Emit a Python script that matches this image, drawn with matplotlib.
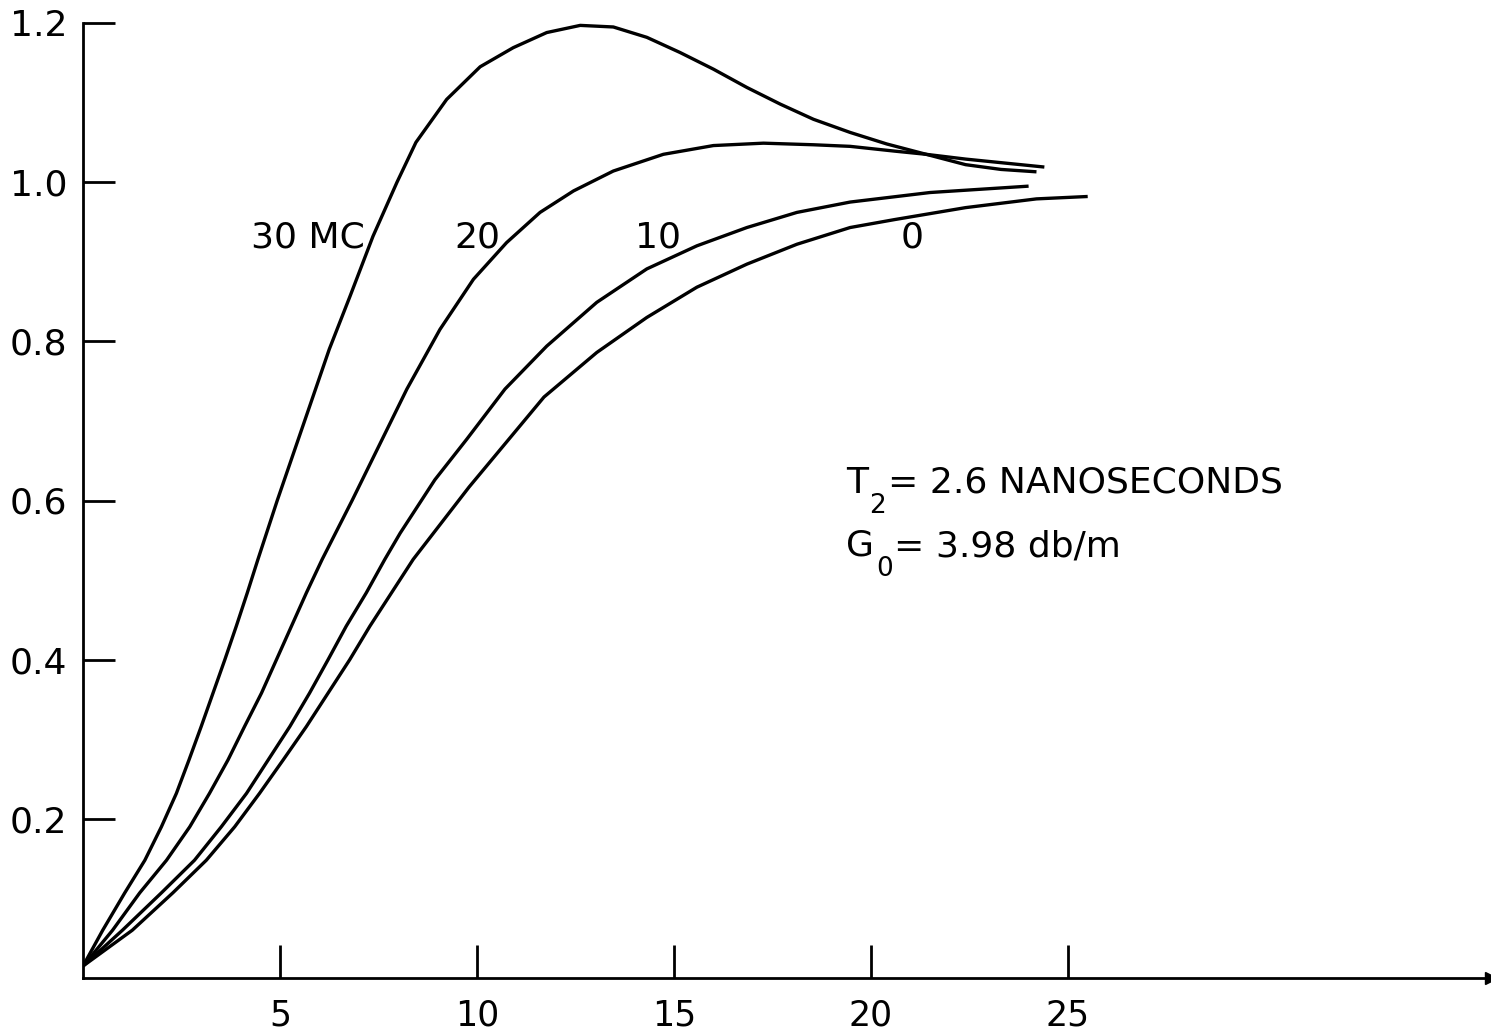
import matplotlib
matplotlib.use("Agg")
import matplotlib.pyplot as plt

plt.rcParams["font.family"] = ["DejaVu Sans"]

# Response curves for several frequency offsets (MC)
x_30 = [0, 0.5, 1.06, 1.57, 1.99, 2.37, 2.69, 3.00, 3.30, 3.60, 3.89, 4.17, 4.44,
        4.93, 6.25, 6.78, 7.36, 7.97, 8.45, 9.23, 10.08, 10.92, 11.77, 12.62, 13.46,
        14.31, 15.15, 16.0, 16.85, 17.70, 18.54, 19.47, 20.4, 21.4, 22.4, 23.3, 24.2]
y_30 = [0.015, 0.060, 0.107, 0.148, 0.190, 0.232, 0.274, 0.316, 0.358, 0.400, 0.442, 0.484, 0.526,
        0.600, 0.790, 0.857, 0.932, 1.000, 1.050, 1.104, 1.145, 1.169, 1.188, 1.197, 1.195,
        1.182, 1.163, 1.142, 1.119, 1.098, 1.079, 1.0625, 1.048, 1.035, 1.022, 1.016, 1.013]

x_20 = [0, 0.75, 1.44, 2.12, 2.71, 3.21, 3.68, 4.10, 4.53, 4.91, 5.29, 5.67, 6.07,
        6.83, 8.22, 9.06, 9.91, 10.75, 11.60, 12.45, 13.46, 14.73, 16.0, 17.27, 18.54,
        19.47, 20.6, 21.4, 22.4, 23.4, 24.4]
y_20 = [0.015, 0.060, 0.107, 0.148, 0.190, 0.232, 0.274, 0.316, 0.358, 0.400, 0.442, 0.484, 0.526,
        0.600, 0.740, 0.815, 0.878, 0.924, 0.962, 0.989, 1.014, 1.035, 1.046, 1.049, 1.047,
        1.045, 1.039, 1.035, 1.029, 1.024, 1.019]

x_10 = [0, 1.0, 1.99, 2.83, 3.51, 4.15, 4.70, 5.25, 5.75, 6.22, 6.68, 7.19, 7.66,
        8.05, 8.93, 9.74, 10.71, 11.77, 13.04, 14.31, 15.58, 16.85, 18.12, 19.47, 21.5, 24.0]
y_10 = [0.015, 0.060, 0.107, 0.148, 0.190, 0.232, 0.274, 0.316, 0.358, 0.400, 0.442, 0.484, 0.526,
        0.559, 0.626, 0.677, 0.740, 0.794, 0.849, 0.891, 0.920, 0.943, 0.962, 0.975, 0.987, 0.995]

x_0 = [0, 1.25, 2.28, 3.13, 3.85, 4.48, 5.08, 5.67, 6.22, 6.77, 7.28, 7.83, 8.38,
       9.8, 11.7, 13.04, 14.31, 15.58, 16.85, 18.12, 19.47, 20.6, 22.4, 24.2, 25.5]
y_0 = [0.015, 0.060, 0.107, 0.148, 0.190, 0.232, 0.274, 0.316, 0.358, 0.400, 0.442, 0.484, 0.526,
       0.617, 0.730, 0.786, 0.830, 0.868, 0.897, 0.922, 0.943, 0.953, 0.968, 0.979, 0.982]

series = [(x_30, y_30), (x_20, y_20), (x_10, y_10), (x_0, y_0)]
curve_labels = ["30 MC", "20", "10", "0"]
label_x = [5.72, 10.0, 14.6, 21.05]
label_y = [0.930, 0.930, 0.930, 0.930]

x_ticks = [5, 10, 15, 20, 25]
x_ticklabels = ["5", "10", "15", "20", "25"]
y_ticks = [0.2, 0.4, 0.6, 0.8, 1.0, 1.2]
y_ticklabels = ["0.2", "0.4", "0.6", "0.8", "1.0", "1.2"]

W, H = 1491, 1034
fig = plt.figure(figsize=(W / 100, H / 100), dpi=100)
x0_px, y0_px, ytop_px = 83, 978, 23
ax = fig.add_axes([x0_px / W, (H - y0_px) / H, (W - x0_px) / W, (y0_px - ytop_px) / H])
ax.set_xlim(0, (W - x0_px) / 39.4)
ax.set_ylim(0, 1.2)

for xs, ys in series:
    ax.plot(xs, ys, color="black", lw=2.4, solid_capstyle="butt", solid_joinstyle="round")

for txt, lx, ly in zip(curve_labels, label_x, label_y):
    ax.text(lx, ly, txt, ha="center", va="center", fontsize=26)


def note(px, py, s, size=26):
    """Place lettering by pixel position (left edge, baseline)."""
    fig.text(px / W, 1 - py / H, s, ha="left", va="baseline", fontsize=size)


# parameter note, with hand-set subscripts
note(846, 493, "T")
note(869, 513, "2", size=19)
note(888, 493, "= 2.6 NANOSECONDS")
note(846, 556, "G")
note(876, 576, "0", size=19)
note(894, 556, "= 3.98 db/m")

for s in ["top", "right"]:
    ax.spines[s].set_visible(False)
for s in ["left", "bottom"]:
    ax.spines[s].set_linewidth(2.0)
ax.spines["left"].set_bounds(0, 1.2)

ax.set_xticks(x_ticks)
ax.set_xticklabels(x_ticklabels)
ax.set_yticks(y_ticks)
ax.set_yticklabels(y_ticklabels)
ax.tick_params(axis="x", direction="in", length=24, width=2.0, pad=15, labelsize=25)
ax.tick_params(axis="y", direction="in", length=23, width=2.0, pad=11.5, labelsize=26)

# arrowhead at the end of the horizontal axis
ax.plot(1, 0, marker=">", color="black", markersize=9, transform=ax.get_yaxis_transform(),
        clip_on=False)

fig.savefig("out.png", dpi=100)
